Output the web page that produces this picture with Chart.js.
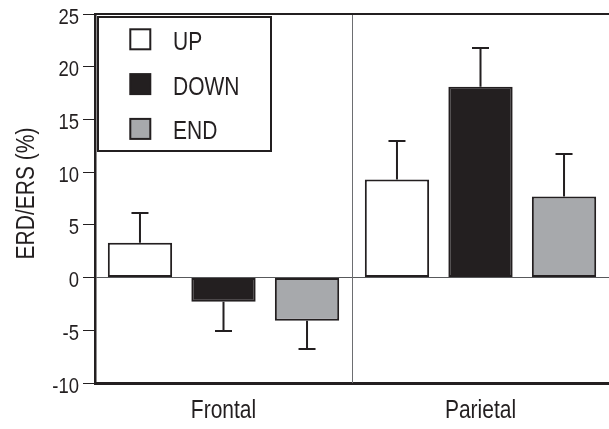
<!DOCTYPE html>
<html>
<head>
<meta charset="utf-8">
<script src="https://cdn.jsdelivr.net/npm/chart.js@4.4.1/dist/chart.umd.min.js"></script>
<style>
  html, body { margin: 0; padding: 0; background: #ffffff; }
  #wrap { width: 609px; height: 429px; }
</style>
</head>
<body>
<div id="wrap"><canvas id="c" width="609" height="429"></canvas></div>
<script>
// Regions (categories)
const regions = ['Frontal', 'Parietal'];

// Mean ERD/ERS per condition (%)
const upValues = [3.3, 9.3];
const downValues = [-2.3, 18.1];
const endValues = [-4.1, 7.7];

// Standard error per condition (%), drawn away from zero
const upErrors = [2.85, 3.65];
const downErrors = [2.8, 3.7];
const endErrors = [2.65, 4.0];

// Y axis range, tick step and tick labels
const yMin = -10;
const yMax = 25;
const yStep = 5;
const yTickLabels = ['-10', '-5', '0', '5', '10', '15', '20', '25'];
const yTitle = 'ERD/ERS (%)';

const INK = '#231f20';
const GREY = '#a7a9ac';
const FONT = "'Liberation Sans', Arial, Helvetica, sans-serif";
const SQUEEZE = 0.84; // horizontal condensing of all lettering

// Draw a string horizontally condensed around its anchor point
function narrowText(ctx, text, x, y, align, size, rot) {
  ctx.save();
  ctx.translate(x, y);
  if (rot) ctx.rotate(rot);
  ctx.scale(SQUEEZE, 1);
  ctx.font = size + 'px ' + FONT;
  ctx.textAlign = align;
  ctx.textBaseline = 'alphabetic';
  ctx.fillStyle = INK;
  ctx.fillText(text, 0, 0);
  ctx.restore();
}

// Error bars: a stem from the bar end plus a short cap
const errorBars = {
  id: 'errorBars',
  afterDatasetsDraw(chart) {
    const ctx = chart.ctx;
    const y = chart.scales.y;
    ctx.save();
    ctx.strokeStyle = INK;
    ctx.lineWidth = 2;
    chart.data.datasets.forEach((ds, di) => {
      const meta = chart.getDatasetMeta(di);
      meta.data.forEach((bar, i) => {
        const v = ds.data[i];
        const e = ds.errors[i];
        const end = v >= 0 ? v + e : v - e;
        const yEnd = Math.round(y.getPixelForValue(end));
        ctx.beginPath();
        ctx.moveTo(bar.x, bar.y);
        ctx.lineTo(bar.x, yEnd);
        ctx.moveTo(bar.x - 8.5, yEnd);
        ctx.lineTo(bar.x + 8.5, yEnd);
        ctx.stroke();
      });
    });
    ctx.restore();
  }
};

// Frame lines: top edge and the divider between regions
const frame = {
  id: 'frame',
  beforeDatasetsDraw(chart) {
    const ctx = chart.ctx;
    const a = chart.chartArea;
    const x = chart.scales.x;
    const mid = Math.round((x.getPixelForValue(0) + x.getPixelForValue(1)) / 2) + 0.5;
    ctx.save();
    ctx.strokeStyle = '#6d6e71';
    ctx.lineWidth = 1;
    ctx.beginPath();
    ctx.moveTo(mid, a.top);
    ctx.lineTo(mid, a.bottom);
    ctx.stroke();
    ctx.strokeStyle = INK;
    ctx.lineWidth = 2;
    ctx.beginPath();
    ctx.moveTo(a.left - 1, a.top);
    ctx.lineTo(a.right, a.top);
    ctx.stroke();
    ctx.restore();
  }
};

// Axis lettering: tick labels, category labels and the y title
const lettering = {
  id: 'lettering',
  afterDraw(chart) {
    const ctx = chart.ctx;
    const y = chart.scales.y;
    const x = chart.scales.x;
    const a = chart.chartArea;
    y.ticks.forEach((t, i) => {
      const py = y.getPixelForValue(t.value);
      narrowText(ctx, yTickLabels[i], 79, py + 9.5, 'right', 22);
    });
    regions.forEach((r, i) => {
      narrowText(ctx, r, x.getPixelForValue(i), 418, 'center', 25);
    });
    narrowText(ctx, yTitle, 34, (a.top + a.bottom) / 2 - 5, 'center', 25, -Math.PI / 2);
  }
};

// Boxed legend in the upper left of the plot
const boxLegend = {
  id: 'boxLegend',
  afterDraw(chart) {
    const ctx = chart.ctx;
    const a = chart.chartArea;
    const bx = a.left + 3, by = a.top + 3, bw = 173, bh = 134;
    ctx.save();
    ctx.fillStyle = '#ffffff';
    ctx.fillRect(bx, by, bw, bh);
    ctx.strokeStyle = INK;
    ctx.lineWidth = 2;
    ctx.strokeRect(bx, by, bw, bh);
    chart.data.datasets.forEach((ds, i) => {
      const sy = by + 12.3 + i * 44.8;
      ctx.fillStyle = ds.backgroundColor;
      ctx.fillRect(bx + 32.3, sy, 20, 20);
      ctx.lineWidth = 2;
      ctx.strokeStyle = INK;
      ctx.strokeRect(bx + 32.3, sy, 20, 20);
      narrowText(ctx, ds.label, bx + 75, sy + 20.5, 'left', 25);
    });
    ctx.restore();
  }
};

new Chart(document.getElementById('c'), {
  type: 'bar',
  data: {
    labels: regions,
    datasets: [
      { label: 'UP', data: upValues, errors: upErrors, backgroundColor: '#ffffff' },
      { label: 'DOWN', data: downValues, errors: downErrors, backgroundColor: INK },
      { label: 'END', data: endValues, errors: endErrors, backgroundColor: GREY }
    ]
  },
  options: {
    responsive: false,
    animation: false,
    layout: { padding: { top: 14, right: 0, bottom: 0, left: 0 } },
    datasets: {
      bar: {
        borderColor: INK,
        borderWidth: 2,
        borderSkipped: false,
        categoryPercentage: 0.975,
        barPercentage: 0.77
      }
    },
    plugins: {
      legend: { display: false },
      tooltip: { enabled: false }
    },
    scales: {
      x: {
        grid: { display: false, drawTicks: false },
        border: { display: true, color: INK, width: 3 },
        ticks: { display: false },
        afterFit(s) { s.height = 46; }
      },
      y: {
        min: yMin,
        max: yMax,
        ticks: { stepSize: yStep, display: false },
        grid: {
          drawOnChartArea: true,
          tickLength: 12,
          tickColor: INK,
          tickWidth: 1,
          lineWidth: 1,
          color: (c) => (c.tick && c.tick.value === 0 ? '#58595b' : 'rgba(0,0,0,0)')
        },
        border: { display: true, color: INK, width: 2.5 },
        afterFit(s) { s.width = 95; }
      }
    }
  },
  plugins: [frame, errorBars, lettering, boxLegend]
});
</script>
</body>
</html>
